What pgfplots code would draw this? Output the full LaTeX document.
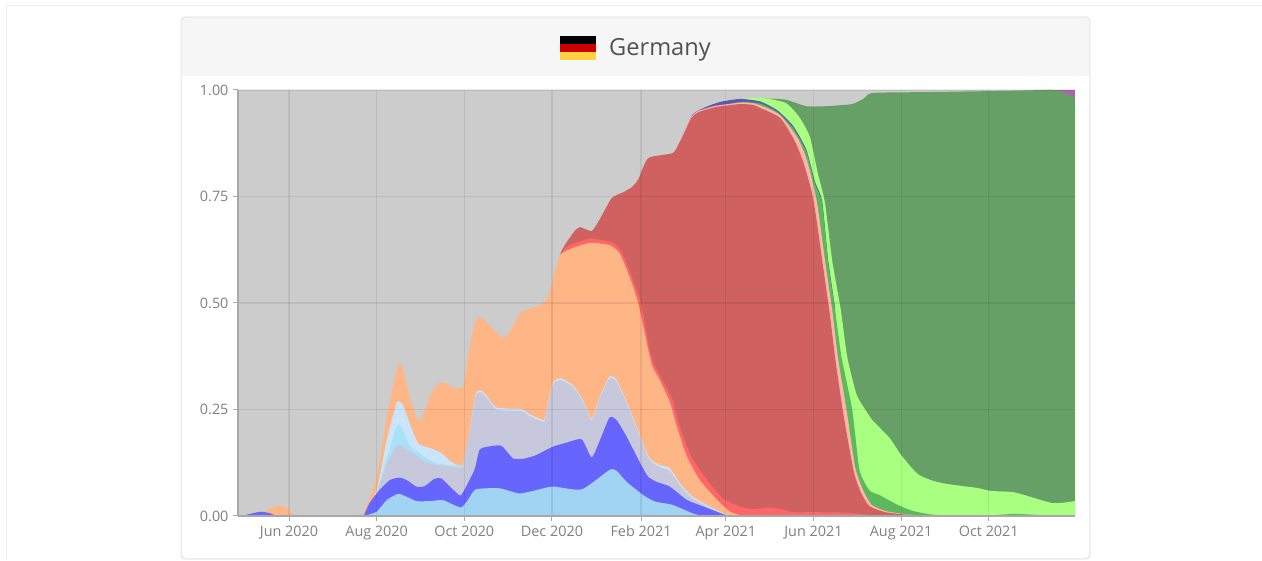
\documentclass[border=0pt]{standalone}
\usepackage{fontspec}
\setmainfont{Open Sans}
\usepackage{pgfplots}
\pgfplotsset{compat=1.18}
\definecolor{cA}{HTML}{A0D4F2}
\definecolor{cB}{HTML}{6666FF}
\definecolor{cC}{HTML}{C8C8DC}
\definecolor{cD}{HTML}{A8E2F8}
\definecolor{cE}{HTML}{CCE4FA}
\definecolor{cF}{HTML}{FFB686}
\definecolor{cG}{HTML}{FF6666}
\definecolor{cH}{HTML}{CF6260}
\definecolor{cI}{HTML}{FFB4AA}
\definecolor{cJ}{HTML}{5A5AB4}
\definecolor{cK}{HTML}{5CB85C}
\definecolor{cL}{HTML}{A8FF80}
\definecolor{cM}{HTML}{66A066}
\definecolor{cN}{HTML}{B060B0}
\definecolor{axc}{HTML}{A8A8A8}
\definecolor{txc}{HTML}{808080}
\pgfplotsset{layer/.style={fill=#1,draw=none,smooth,tension=0.35}}
\begin{document}
\begin{tikzpicture}[x=1pt,y=1pt]
\useasboundingbox (0,0) rectangle (1262,560);
\fill[white] (0,0) rectangle (1262,560);
\draw[color=black!7,line width=1pt] (6,0) -- (6,554) -- (1262,554);
\fill[black!8,rounded corners=4pt] (180.5,0.5) rectangle (1090.5,543.5);
\fill[white,rounded corners=4pt] (182,2) rectangle (1089,542);
\fill[black!3.5,rounded corners=4pt] (182,484) rectangle (1089,542);
\fill[black!3.5] (182,484) rectangle (1089,500);
\fill[black] (560,516) rectangle (596,524);
\fill[red!80!black] (560,508) rectangle (596,516);
\definecolor{flagy}{HTML}{FFD040}
\fill[flagy] (560,500) rectangle (596,508);
\node[anchor=west,inner sep=0pt,text=black!68,font=\fontsize{23.6}{27}\selectfont] at (609,510.5) {Germany};
\begin{axis}[
  at={(238pt,44pt)},anchor=south west,
  scale only axis,width=837pt,height=426pt,
  xmin=-35.5,xmax=547,ymin=0,ymax=1,
  axis background/.style={fill=black!20},
  axis on top,
  axis x line*=bottom,axis y line*=left,
  axis line style={-,color=axc,line width=1.2pt},
  xtick={0,61,122,183,245,304,365,426,487},
  xticklabels={Jun 2020,Aug 2020,Oct 2020,Dec 2020,Feb 2021,Apr 2021,Jun 2021,Aug 2021,Oct 2021},
  ytick={0,0.25,0.5,0.75,1},
  grid=major,
  grid style={black,opacity=0.08,line width=1.2pt},
  tick align=outside,major tick length=5pt,
  tick style={color=axc,line width=1pt},
  tick label style={text=txc,font=\fontsize{14.4}{16}\selectfont},
  x tick label style={yshift=-1pt,text height=11pt,text depth=3pt},
  y tick label style={xshift=-1pt},
  /pgf/number format/assume math mode=true,
  /pgf/number format/fixed,/pgf/number format/fixed zerofill,/pgf/number format/precision=2,
]
% purple
\addplot[fill=cN,draw=none] coordinates {(530,1)(547,1)} \closedcycle;
% dark green
\addplot[layer=cM] coordinates {(318,0.97)(325,0.98)(333,0.98)(346,0.977)(360,0.962)(374,0.962)(392,0.967)(400,0.98)(406,0.993)(440,0.995)(500,0.998)(532,1)(540,0.993)(547,0.983)} \closedcycle;
% light green
\addplot[layer=cL] coordinates {(316,0.978)(323,0.982)(333,0.98)(346,0.969)(355,0.937)(362.5,0.89)(368,0.805)(373,0.735)(378,0.60)(384,0.484)(388.5,0.373)(395,0.285)(401,0.25)(406,0.225)(418,0.183)(426,0.143)(437,0.10)(446,0.085)(455,0.077)(469,0.07)(479,0.066)(488,0.059)(504,0.056)(516,0.045)(532,0.03)(547,0.035)} \closedcycle;
% dark blue
\addplot[layer=cJ] coordinates {(270,0.865)(275,0.9)(281,0.943)(290,0.96)(300,0.972)(314,0.979)(328,0.973)(340,0.952)(351,0.915)(360,0.86)(366,0.785)(371,0.74)(375,0.606)(380,0.49)} \closedcycle;
% green
\addplot[layer=cK] coordinates {(300,0.962)(314,0.972)(328,0.968)(340,0.948)(351,0.91)(360,0.855)(366,0.78)(371,0.735)(375,0.60)(380,0.484)(384.5,0.373)(392,0.249)(397,0.108)(404,0.06)(411,0.049)(423,0.027)(434,0.012)(446,0.004)(460,0.001)(490,0.002)(505,0.005)(525,0.002)(547,0.002)} \closedcycle;
% pink
\addplot[layer=cI] coordinates {(268,0.85)(272,0.88)(280,0.937)(285,0.951)(297,0.963)(314,0.97)(323,0.969)(333,0.957)(342,0.94)(353.5,0.89)(360,0.84)(365,0.775)(368,0.725)(373,0.60)(378,0.484)(382,0.373)(388,0.249)(394,0.115)(399.6,0.06)(405.5,0.026)(416,0.011)(430,0.004)(445,0)} \closedcycle;
% dark red
\addplot[layer=cH] coordinates {(183,0.5)(188.6,0.613)(197.6,0.664)(202.5,0.678)(210.6,0.669)(216,0.695)(224.6,0.746)(232.7,0.76)(238.6,0.772)(243,0.79)(250,0.84)(267,0.852)(272,0.878)(280,0.934)(285,0.948)(297,0.96)(314,0.967)(323,0.965)(328,0.958)(342,0.934)(352,0.88)(358,0.83)(363.5,0.765)(366.5,0.71)(371.5,0.59)(376.5,0.47)(380.5,0.36)(386,0.235)(393,0.105)(398,0.055)(404,0.023)(415,0.009)(430,0.003)(445,0)} \closedcycle;
% red
\addplot[layer=cG] coordinates {(187,0.58)(192,0.629)(209.5,0.651)(225.6,0.641)(231.5,0.62)(238.6,0.561)(245,0.50)(251,0.39)(255,0.35)(260,0.319)(267,0.272)(272,0.209)(280,0.139)(291,0.084)(302,0.041)(314,0.022)(323,0.016)(335,0.02)(342,0.016)(351,0.009)(365,0.009)(385,0.008)(397,0.005)(410,0.001)(430,0)} \closedcycle;
% orange bump
\addplot[layer=cF] coordinates {(-25,0)(-18,0.01)(-7.4,0.024)(-1.6,0.018)(4,0)} \closedcycle;
% orange
\addplot[layer=cF] coordinates {(51,0)(61,0.09)(69,0.25)(77,0.36)(84,0.28)(89,0.229)(92,0.226)(98,0.28)(104,0.3125)(109.5,0.31)(115,0.30)(121,0.303)(124.5,0.373)(129,0.45)(133,0.468)(140,0.445)(149,0.418)(155,0.44)(161,0.477)(168,0.487)(175,0.495)(180,0.512)(184,0.56)(188.6,0.613)(197.6,0.629)(209.5,0.641)(223,0.636)(230,0.617)(237,0.561)(243,0.50)(250,0.39)(253,0.35)(258,0.319)(265,0.268)(270,0.209)(277,0.139)(286,0.084)(298,0.0375)(307,0.01)(314,0.002)(320,0)} \closedcycle;
% pale blue
\addplot[layer=cE] coordinates {(52,0)(61,0.06)(68,0.178)(75,0.266)(79,0.2625)(84,0.217)(90,0.17)(98,0.16)(106,0.148)(113,0.127)(121,0.12)(126,0.209)(130,0.2875)(134,0.294)(138,0.28)(144,0.255)(156,0.252)(163,0.25)(167,0.24)(174,0.229)(178,0.229)(183.5,0.311)(189,0.323)(197.6,0.307)(204.6,0.272)(210.6,0.229)(216.4,0.28)(223,0.327)(228,0.319)(237,0.252)(245.5,0.178)(251,0.135)(258,0.12)(265,0.112)(272,0.077)(281,0.045)(293,0.022)(304,0.004)(312,0)} \closedcycle;
% cyan
\addplot[layer=cD] coordinates {(52,0)(61,0.057)(68,0.135)(75,0.209)(78,0.209)(84,0.166)(90,0.15)(100,0.127)(109.5,0.12)(121,0.116)(124,0.12)} \closedcycle;
% lavender
\addplot[layer=cC] coordinates {(52,0)(61,0.053)(68,0.123)(75,0.165)(78,0.165)(86.4,0.147)(95.6,0.127)(107,0.118)(119,0.114)(121,0.116)(126,0.205)(130,0.283)(134,0.29)(138,0.276)(144,0.25)(156,0.247)(163,0.245)(167,0.235)(174,0.225)(178,0.225)(183.5,0.307)(189,0.319)(197.6,0.303)(204.6,0.268)(210.6,0.225)(216.4,0.276)(223,0.323)(228,0.315)(237,0.248)(245.5,0.174)(251,0.131)(258,0.115)(265,0.106)(272,0.072)(281,0.041)(293,0.019)(304,0.003)(312,0)} \closedcycle;
% blue bump
\addplot[layer=cB] coordinates {(-33,0)(-20,0.01)(-13,0.006)(-9,0)} \closedcycle;
% blue
\addplot[layer=cB] coordinates {(52,0)(56,0.03)(63,0.061)(70,0.084)(77,0.09)(82,0.084)(88.7,0.069)(94.4,0.07)(101,0.087)(106,0.088)(112,0.069)(119,0.048)(122,0.061)(129,0.108)(132.6,0.155)(138,0.1625)(147.7,0.165)(156,0.135)(164,0.135)(172,0.143)(183.5,0.1625)(193,0.172)(203.7,0.18)(210.6,0.1375)(216.4,0.178)(223,0.231)(228,0.225)(235,0.186)(244.6,0.123)(250,0.092)(256,0.08)(265,0.069)(277,0.0375)(288.7,0.022)(304,0.002)(310,0)} \closedcycle;
% light blue
\addplot[layer=cA] coordinates {(52,0)(61,0.01)(68,0.0375)(76,0.052)(82,0.045)(88.7,0.035)(98,0.035)(107,0.0375)(114,0.027)(120,0.02)(124.5,0.0375)(130,0.0625)(146.5,0.065)(160,0.053)(170,0.059)(183.5,0.069)(203.7,0.0625)(223,0.108)(228,0.106)(235,0.08)(246.6,0.049)(254.7,0.034)(267,0.026)(281,0.006)(288,0)} \closedcycle;
\end{axis}
\end{tikzpicture}
\end{document}
